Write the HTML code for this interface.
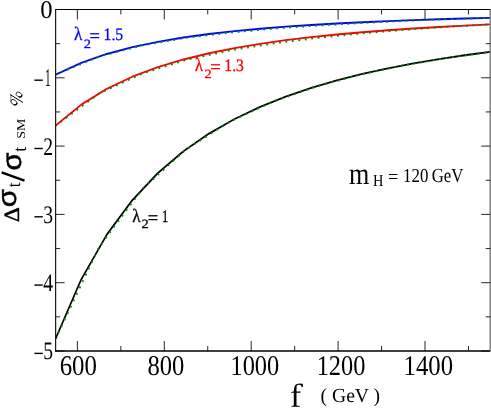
<!DOCTYPE html>
<html><head><meta charset="utf-8"><title>chart</title>
<style>html,body{margin:0;padding:0;background:#fff;}svg{display:block;text-rendering:geometricPrecision;will-change:transform;}text{font-family:"Liberation Serif",serif;}.ss{font-family:"Liberation Sans",sans-serif;}</style>
</head><body>
<svg width="491" height="409" viewBox="0 0 491 409">
<rect x="0" y="0" width="491" height="409" fill="#fff"/>
<clipPath id="cp"><rect x="62.18" y="9.50" width="485.53" height="341.50"/></clipPath>
<g transform="scale(0.8950,1)">
<g clip-path="url(#cp)" fill="none" stroke-linejoin="round">
<polyline points="62.18,74.53 90.74,62.81 119.30,53.98 147.86,47.17 176.42,41.80 204.98,37.51 233.54,34.01 262.10,31.12 290.66,28.72 319.22,26.70 347.79,24.97 376.35,23.50 404.91,22.22 433.47,21.12 462.03,20.15 490.59,19.29 519.15,18.54 547.71,17.87" stroke="#0000ff" stroke-width="1.85"/>
<polyline points="62.18,125.55 90.74,104.65 119.30,88.89 147.86,76.73 176.42,67.16 204.98,59.48 233.54,53.24 262.10,48.09 290.66,43.80 319.22,40.19 347.79,37.12 376.35,34.48 404.91,32.21 433.47,30.23 462.03,28.50 490.59,26.98 519.15,25.63 547.71,24.43" stroke="#ff0000" stroke-width="1.85"/>
<polyline points="62.18,338.69 90.74,279.40 119.30,234.70 147.86,200.21 176.42,173.04 204.98,151.28 233.54,133.57 262.10,118.98 290.66,106.81 319.22,96.56 347.79,87.84 376.35,80.37 404.91,73.92 433.47,68.31 462.03,63.40 490.59,59.08 519.15,55.26 547.71,51.86" stroke="#000000" stroke-width="1.85"/>
<polyline points="62.18,74.53 110.73,56.55 159.28,45.30 207.84,37.81 256.39,32.54 304.94,28.62 353.50,25.54 402.05,23.04 450.60,20.95 499.16,19.22 547.71,17.87" stroke="#008b00" stroke-width="2.0" stroke-dasharray="2.0 5.23" stroke-dashoffset="0.9"/>
<polyline points="62.18,125.55 110.73,93.44 159.28,73.31 207.84,59.89 256.39,50.44 304.94,43.42 353.50,37.95 402.05,33.51 450.60,29.84 499.16,26.81 547.71,24.43" stroke="#008b00" stroke-width="2.0" stroke-dasharray="2.0 5.23" stroke-dashoffset="0.9"/>
<polyline points="62.18,338.69 110.73,246.90 159.28,188.66 207.84,149.45 256.39,121.82 304.94,101.62 353.50,86.40 402.05,74.63 450.60,65.35 499.16,57.91 547.71,51.86" stroke="#008b00" stroke-width="2.0" stroke-dasharray="2.0 5.23" stroke-dashoffset="0.9"/>
</g>
<g stroke="#000" stroke-width="1.20" fill="none" stroke-linecap="butt">
<path d="M547.71,9.50 L62.18,9.50 L62.18,351.75"/>
<line x1="61.58" y1="351.00" x2="547.71" y2="351.00" stroke-width="1.5"/>
<line x1="548.01" y1="8.90" x2="548.01" y2="351.60" stroke-width="2.2" stroke="#858585"/>
<g stroke-width="0.9">
<line x1="86.46" y1="351.00" x2="86.46" y2="341.00"/>
<line x1="86.46" y1="9.50" x2="86.46" y2="19.50"/>
<line x1="135.01" y1="351.00" x2="135.01" y2="346.00"/>
<line x1="135.01" y1="9.50" x2="135.01" y2="14.50"/>
<line x1="183.56" y1="351.00" x2="183.56" y2="341.00"/>
<line x1="183.56" y1="9.50" x2="183.56" y2="19.50"/>
<line x1="232.11" y1="351.00" x2="232.11" y2="346.00"/>
<line x1="232.11" y1="9.50" x2="232.11" y2="14.50"/>
<line x1="280.67" y1="351.00" x2="280.67" y2="341.00"/>
<line x1="280.67" y1="9.50" x2="280.67" y2="19.50"/>
<line x1="329.22" y1="351.00" x2="329.22" y2="346.00"/>
<line x1="329.22" y1="9.50" x2="329.22" y2="14.50"/>
<line x1="377.77" y1="351.00" x2="377.77" y2="341.00"/>
<line x1="377.77" y1="9.50" x2="377.77" y2="19.50"/>
<line x1="426.33" y1="351.00" x2="426.33" y2="346.00"/>
<line x1="426.33" y1="9.50" x2="426.33" y2="14.50"/>
<line x1="474.88" y1="351.00" x2="474.88" y2="341.00"/>
<line x1="474.88" y1="9.50" x2="474.88" y2="19.50"/>
<line x1="523.43" y1="351.00" x2="523.43" y2="346.00"/>
<line x1="523.43" y1="9.50" x2="523.43" y2="14.50"/>
<line x1="62.18" y1="9.50" x2="72.18" y2="9.50"/>
<line x1="547.71" y1="9.50" x2="537.71" y2="9.50"/>
<line x1="62.18" y1="43.65" x2="67.18" y2="43.65"/>
<line x1="547.71" y1="43.65" x2="542.71" y2="43.65"/>
<line x1="62.18" y1="77.80" x2="72.18" y2="77.80"/>
<line x1="547.71" y1="77.80" x2="537.71" y2="77.80"/>
<line x1="62.18" y1="111.95" x2="67.18" y2="111.95"/>
<line x1="547.71" y1="111.95" x2="542.71" y2="111.95"/>
<line x1="62.18" y1="146.10" x2="72.18" y2="146.10"/>
<line x1="547.71" y1="146.10" x2="537.71" y2="146.10"/>
<line x1="62.18" y1="180.25" x2="67.18" y2="180.25"/>
<line x1="547.71" y1="180.25" x2="542.71" y2="180.25"/>
<line x1="62.18" y1="214.40" x2="72.18" y2="214.40"/>
<line x1="547.71" y1="214.40" x2="537.71" y2="214.40"/>
<line x1="62.18" y1="248.55" x2="67.18" y2="248.55"/>
<line x1="547.71" y1="248.55" x2="542.71" y2="248.55"/>
<line x1="62.18" y1="282.70" x2="72.18" y2="282.70"/>
<line x1="547.71" y1="282.70" x2="537.71" y2="282.70"/>
<line x1="62.18" y1="316.85" x2="67.18" y2="316.85"/>
<line x1="547.71" y1="316.85" x2="542.71" y2="316.85"/>
<line x1="62.18" y1="351.00" x2="72.18" y2="351.00"/>
<line x1="547.71" y1="351.00" x2="537.71" y2="351.00"/>
</g></g>
</g>
<text transform="translate(59.64,374.76) scale(0.871,1)" font-size="28.59" fill="#000">600</text>
<text transform="translate(147.48,374.76) scale(0.861,1)" font-size="28.59" fill="#000">800</text>
<text transform="translate(230.46,374.76) scale(0.854,1)" font-size="28.59" fill="#000">1000</text>
<text transform="translate(316.66,374.76) scale(0.854,1)" font-size="28.59" fill="#000">1200</text>
<text transform="translate(403.58,374.76) scale(0.866,1)" font-size="28.59" fill="#000">1400</text>
<text transform="translate(40.17,18.24) scale(0.964,1)" font-size="25.63" fill="#000">0</text>
<text transform="translate(44.91,86.25) scale(0.450,1)" font-size="25.23" fill="#000">1</text>
<line x1="34.4" y1="80.20" x2="42.8" y2="80.20" stroke="#000" stroke-width="1.4"/>
<text transform="translate(43.15,154.50) scale(0.780,1)" font-size="25.20" fill="#000">2</text>
<line x1="34.4" y1="148.50" x2="42.8" y2="148.50" stroke="#000" stroke-width="1.4"/>
<text transform="translate(43.15,222.80) scale(0.780,1)" font-size="25.20" fill="#000">3</text>
<line x1="34.4" y1="216.80" x2="42.8" y2="216.80" stroke="#000" stroke-width="1.4"/>
<text transform="translate(43.15,291.10) scale(0.780,1)" font-size="25.20" fill="#000">4</text>
<line x1="34.4" y1="285.10" x2="42.8" y2="285.10" stroke="#000" stroke-width="1.4"/>
<text transform="translate(43.15,359.40) scale(0.780,1)" font-size="25.20" fill="#000">5</text>
<line x1="34.4" y1="353.40" x2="42.8" y2="353.40" stroke="#000" stroke-width="1.4"/>
<text transform="translate(73.97,40.25) scale(0.905,1)" font-size="18.94" fill="#0000ff" stroke="#0000ff" stroke-width="0.3">λ</text>
<text transform="translate(83.79,47.75) scale(1.136,1)" font-size="12.68" fill="#0000ff" stroke="#0000ff" stroke-width="0.3">2</text>
<text transform="translate(89.48,41.63) scale(0.963,1)" font-size="19.20" fill="#0000ff" stroke="#0000ff" stroke-width="0.3">=</text>
<text transform="translate(103.52,40.24) scale(0.902,1)" font-size="17.48" fill="#0000ff" stroke="#0000ff" stroke-width="0.3">1.5</text>
<text transform="translate(194.77,71.05) scale(0.905,1)" font-size="18.94" fill="#ff0000" stroke="#ff0000" stroke-width="0.3">λ</text>
<text transform="translate(204.59,77.75) scale(1.136,1)" font-size="12.68" fill="#ff0000" stroke="#ff0000" stroke-width="0.3">2</text>
<text transform="translate(210.28,72.83) scale(0.963,1)" font-size="19.20" fill="#ff0000" stroke="#ff0000" stroke-width="0.3">=</text>
<text transform="translate(224.33,71.04) scale(0.900,1)" font-size="17.42" fill="#ff0000" stroke="#ff0000" stroke-width="0.3">1.3</text>
<text transform="translate(132.27,221.96) scale(0.905,1)" font-size="18.94" fill="#000000" stroke="#000000" stroke-width="0.3">λ</text>
<text transform="translate(141.49,228.46) scale(1.136,1)" font-size="12.68" fill="#000000" stroke="#000000" stroke-width="0.3">2</text>
<text transform="translate(147.78,223.74) scale(0.963,1)" font-size="19.20" fill="#000000" stroke="#000000" stroke-width="0.3">=</text>
<text transform="translate(162.11,221.96) scale(0.713,1)" font-size="17.50" fill="#000000" stroke="#000000" stroke-width="0.3">1</text>
<text transform="translate(348.88,183.50) scale(0.847,1)" font-size="30.85" fill="#000">m</text>
<text transform="translate(373.10,185.90) scale(0.852,1)" font-size="16.95" fill="#000">H</text>
<text transform="translate(388.09,182.87) scale(0.933,1)" font-size="19.60" fill="#000">=</text>
<text transform="translate(403.12,181.70) scale(0.853,1)" font-size="19.78" fill="#000">120</text>
<text transform="translate(431.63,181.60) scale(0.845,1)" font-size="19.93" fill="#000">GeV</text>
<path d="M293.83 392.86 L291.22 392.86 L291.22 392.07 L293.83 391.44 L293.83 390.38 Q293.83 387.02 295.15 385.22 Q296.48 383.41 299.56 383.41 Q301.32 383.41 302.83 383.72 L302.83 387.02 L301.71 387.02 L300.68 385.04 Q299.90 384.70 298.80 384.70 Q297.36 384.70 296.92 385.61 Q296.50 386.51 296.50 388.99 L296.50 391.50 L300.53 391.50 L300.53 392.86 L296.50 392.86 L296.50 405.39 L299.77 405.92 L299.77 406.65 L291.59 406.65 L291.59 405.92 L293.83 405.39 Z" fill="#000"/>
<text transform="translate(320.57,402.40) scale(0.980,1)" font-size="20.00" fill="#000">( GeV )</text>
<text transform="translate(19.10,222.18) rotate(-90) scale(1.082,1)" font-size="21.67" fill="#000" stroke="#000" stroke-width="0.45">Δ</text>
<text transform="translate(15.94,207.16) rotate(-90) scale(1.130,1)" font-size="26.23" fill="#000" class="ss" stroke="#000" stroke-width="0.5">σ</text>
<text transform="translate(19.61,187.17) rotate(-90) scale(0.896,1)" font-size="19.13" fill="#000">t</text>
<line x1="1.6" y1="172.3" x2="24.5" y2="180.6" stroke="#000" stroke-width="2.45"/>
<text transform="translate(21.33,170.54) rotate(-90) scale(1.079,1)" font-size="26.98" fill="#000" class="ss" stroke="#000" stroke-width="0.5">σ</text>
<text transform="translate(25.91,151.68) rotate(-90) scale(0.945,1)" font-size="18.96" fill="#000">t</text>
<text transform="translate(25.28,138.74) rotate(-90) scale(1.158,1)" font-size="12.04" fill="#000">SM</text>
<g fill="none" stroke="#000" stroke-width="0.75" stroke-linecap="round">
<ellipse cx="19.0" cy="94.6" rx="3.2" ry="2.2" transform="rotate(35 19.0 94.6)"/>
<ellipse cx="13.9" cy="102.2" rx="3.3" ry="2.3" transform="rotate(37 13.9 102.2)"/>
<path d="M19.6,97.0 A3.3,2.3 38 0 0 21.9,95.6 M14.4,104.8 A3.4,2.4 40 0 0 16.9,103.4" stroke-width="1.3"/>
<line x1="10.3" y1="94.7" x2="22.6" y2="102.3" stroke-width="1.0"/>
<line x1="10.9" y1="95.4" x2="10.9" y2="101.0" stroke-width="0.5"/>
</g>
</svg></body></html>
